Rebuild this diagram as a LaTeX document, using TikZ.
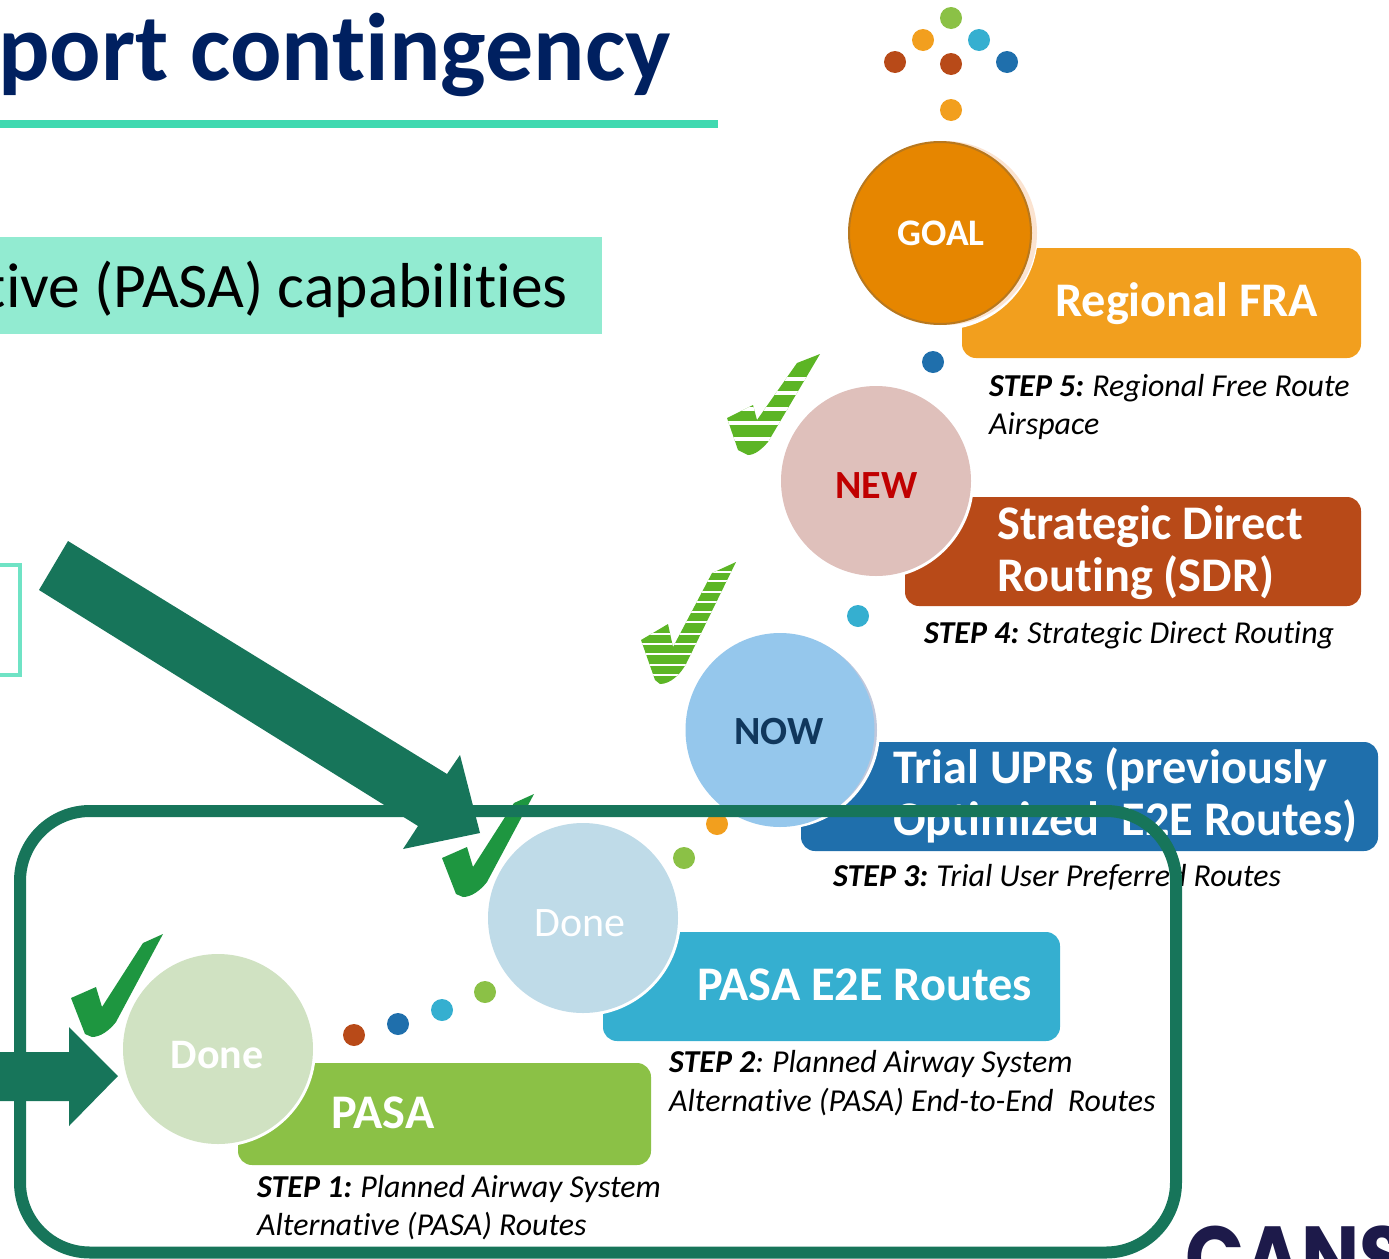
\documentclass[tikz,border=0pt]{standalone}
\usepackage{fontspec}
\setmainfont{Carlito}[Ligatures=CommonOff]
\newfontfamily\logofont{Poppins}
\usetikzlibrary{shapes.geometric}
\definecolor{navy}{HTML}{002060}
\definecolor{mint}{HTML}{40D9B0}
\definecolor{banner}{HTML}{92EBD1}
\definecolor{outl}{HTML}{6FE3C5}
\definecolor{frameg}{HTML}{17755A}
\definecolor{rust}{HTML}{B84A18}
\definecolor{amber}{HTML}{F29F1E}
\definecolor{ocean}{HTML}{1F6FAC}
\definecolor{sky}{HTML}{35AFD0}
\definecolor{leaf}{HTML}{8BC146}
\definecolor{chk}{HTML}{1E9640}
\definecolor{chks}{HTML}{5CB525}
\definecolor{logoink}{HTML}{1D1A4A}
\definecolor{doneg}{HTML}{D0E2C2}
\definecolor{doneb}{HTML}{BFDBE8}
\definecolor{nowblue}{HTML}{95C7EC}
\definecolor{nowshadow}{HTML}{C0C8DC}
\definecolor{newpink}{HTML}{DFC0BB}
\definecolor{goalor}{HTML}{E68600}
\definecolor{goaled}{HTML}{B8781E}
\definecolor{goalshadow}{HTML}{FBE3D0}
\definecolor{newred}{HTML}{C00000}
\definecolor{nowink}{HTML}{10375C}
\newcommand{\fs}[1]{\fontsize{#1}{#1}\selectfont}
\newcommand{\solidcheck}{(71,998) -- (96,987) -- (102,1007) -- (143,943) -- (163,934) -- (116,1022) .. controls (109,1031) and (100,1037) .. (92,1037) -- (85,1034) -- cycle}
\tikzset{
  x=1pt,y=-1pt,
  barbox/.style={rounded corners=14pt,draw=none},
  disc/.style={circle,minimum size=#1,inner sep=0pt,align=center},
  dotmark/.style={circle,minimum size=22pt,inner sep=0pt,fill=#1},
  lbl/.style={anchor=base west,inner sep=0pt,text=white,font=\fs{48.3}\bfseries},
  stepcap/.style={anchor=base west,inner sep=0pt,text=black,font=\fs{31.9}\itshape},
  bigarrow/.style={fill=frameg,draw=none}
}
\begin{document}
\begin{tikzpicture}
\useasboundingbox (0,0) rectangle (1389,1258);
\clip (0,0) rectangle (1389,1258);
% header
\node[anchor=base west,inner sep=0pt,text=navy,font=\fs{96}\bfseries] (title) at (-2,80) {port contingency};
\fill[mint] (0,120) rectangle (718,128);
\fill[banner] (0,237) rectangle (602,334);
\node[anchor=base east,inner sep=0pt,text=black,font=\fs{63.5}] (subtitle) at (568,307) {tive (PASA) capabilities};
\draw[outl,line width=4pt] (-10,565) -- (20,565) -- (20,675) -- (-10,675);
% logo
\node[anchor=base west,inner sep=0pt,text=logoink,font=\fs{88}\logofont\bfseries,xscale=0.88,transform shape] (logo) at (1185,1288) {CANS};
% bars
\fill[barbox,leaf] (238,1063) rectangle (651,1165);
\fill[barbox,sky] (603,932) rectangle (1060,1041);
\fill[barbox,ocean] (801,742) rectangle (1378,851);
\fill[barbox,rust] (905,497) rectangle (1361,606);
\fill[barbox,amber] (962,248) rectangle (1361,358);
% checks
\fill[chk] \solidcheck;
\begin{scope}[shift={(371,-140)}]
\fill[chk] \solidcheck;
\end{scope}
\begin{scope}
\clip (641,640) -- (668,624) -- (673,647) -- (712,573) -- (736,562) -- (686,664) .. controls (680,675) and (670,684) .. (660,684) -- (655,680) -- cycle;
\fill[chks] (630,550) rectangle (750,700);
\foreach \s in {572,581,592,602,612,622,634,644,654,665,675}
  \fill[white] (630,\s-0.9) rectangle (750,\s+0.9);
\end{scope}
\begin{scope}
\clip (727,418) -- (753,405) -- (757,420) -- (797,363) -- (820,354) -- (768,442) .. controls (762,449) and (755,455) .. (748,455) -- (738,450) -- cycle;
\fill[chks] (720,345) rectangle (830,465);
\foreach \s in {378.5,392.5,408.5,422.5,439}
  \fill[white] (720,\s-2) rectangle (830,\s+2);
\end{scope}
% circles
\fill[white] (218,1049) circle (98);
\fill[white] (583,918) circle (98);
\fill[white] (781,730) circle (99);
\fill[white] (876,481) circle (98);
\fill[white] (941,233) circle (97);
\fill[goalshadow] (945,233) circle (92);
\node[disc=190pt,fill=doneg] (done1) at (218,1049) {};
\node[disc=190pt,fill=doneb] (done2) at (583,918) {};
\fill[nowshadow] (782,730) circle (95);
\node[ellipse,minimum width=189pt,minimum height=194pt,inner sep=0pt,fill=nowblue] (now) at (780,730) {};
\node[disc=190pt,fill=newpink] (new) at (876,481) {};
\node[disc=182pt,fill=goalor,draw=goaled,line width=2pt] (goal) at (940,233) {};
\node[inner sep=0pt,text=white,font=\fs{37.5}\bfseries] (goalt) at (941,233) {GOAL};
\node[inner sep=0pt,text=newred,font=\fs{40}\bfseries] (newt) at (876.5,485.5) {NEW};
\node[inner sep=0pt,text=nowink,font=\fs{40}\bfseries] (nowt) at (779,732) {NOW};
\node[inner sep=0pt,text=white,font=\fs{42}\bfseries] (done1t) at (217,1055) {Done};
\node[inner sep=0pt,text=white,font=\fs{42}] (done2t) at (580,923) {Done};
% dots
\foreach \nm/\px/\py/\c in {a/354/1035/rust,b/398/1024/ocean,c/442/1010/sky,d/485/992/leaf,e/684/858/leaf,f/717/824/amber,g/858/616/sky,h/933/362/ocean,i/895/62/rust,j/923/40/amber,k/951/18/leaf,l/979/40/sky,m/1007/62/ocean,n/951/64/rust,o/951/110/amber}
  \node[dotmark=\c] (dot\nm) at (\px,\py) {};
% labels
\node[lbl] (fra) at (1055,316) {Regional FRA};
\node[lbl] (sdra) at (997,539) {Strategic Direct};
\node[lbl] (sdrb) at (997,591) {Routing (SDR)};
\node[lbl] (upra) at (893,783) {Trial UPRs (previously};
\node[lbl] (uprb) at (893,835) {Optimized~~E2E Routes)};
\node[lbl] (e2e) at (697,1000) {PASA E2E Routes};
\node[lbl] (pasa) at (331,1128.5) {PASA};
% captions
\node[stepcap] (s5a) at (989,396) {\textbf{STEP 5:}\kern-1.5pt{} Regional Free Route};
\node[stepcap] (s5b) at (989,434) {Airspace};
\node[stepcap] (s4) at (924,643) {\textbf{STEP 4:}\kern-1.5pt{} Strategic Direct Routing};
\node[stepcap] (s3) at (833,886) {\textbf{STEP 3:}\kern-1.5pt{} Trial User Preferred Routes};
\node[stepcap] (s2a) at (669,1072) {\textbf{STEP 2}:\kern-1.5pt{} Planned Airway System};
\node[stepcap] (s2b) at (669,1111) {Alternative (PASA) End-to-End~~Routes};
\node[stepcap] (s1a) at (257,1197) {\textbf{STEP 1:}\kern-1.5pt{} Planned Airway System};
\node[stepcap] (s1b) at (257,1235) {Alternative (PASA) Routes};
% frame
\draw[frameg,line width=12pt,rounded corners=70pt] (20,811) rectangle (1176,1252.5);
% arrows
\fill[bigarrow] (68,541) -- (447,774) -- (460,755) -- (480,833) -- (403,849) -- (418,826) -- (39,590) -- cycle;
\fill[bigarrow] (-5,1052) -- (69,1052) -- (69,1027) -- (118,1076) -- (69,1126) -- (69,1101) -- (-5,1101) -- cycle;
\end{tikzpicture}
\end{document}
